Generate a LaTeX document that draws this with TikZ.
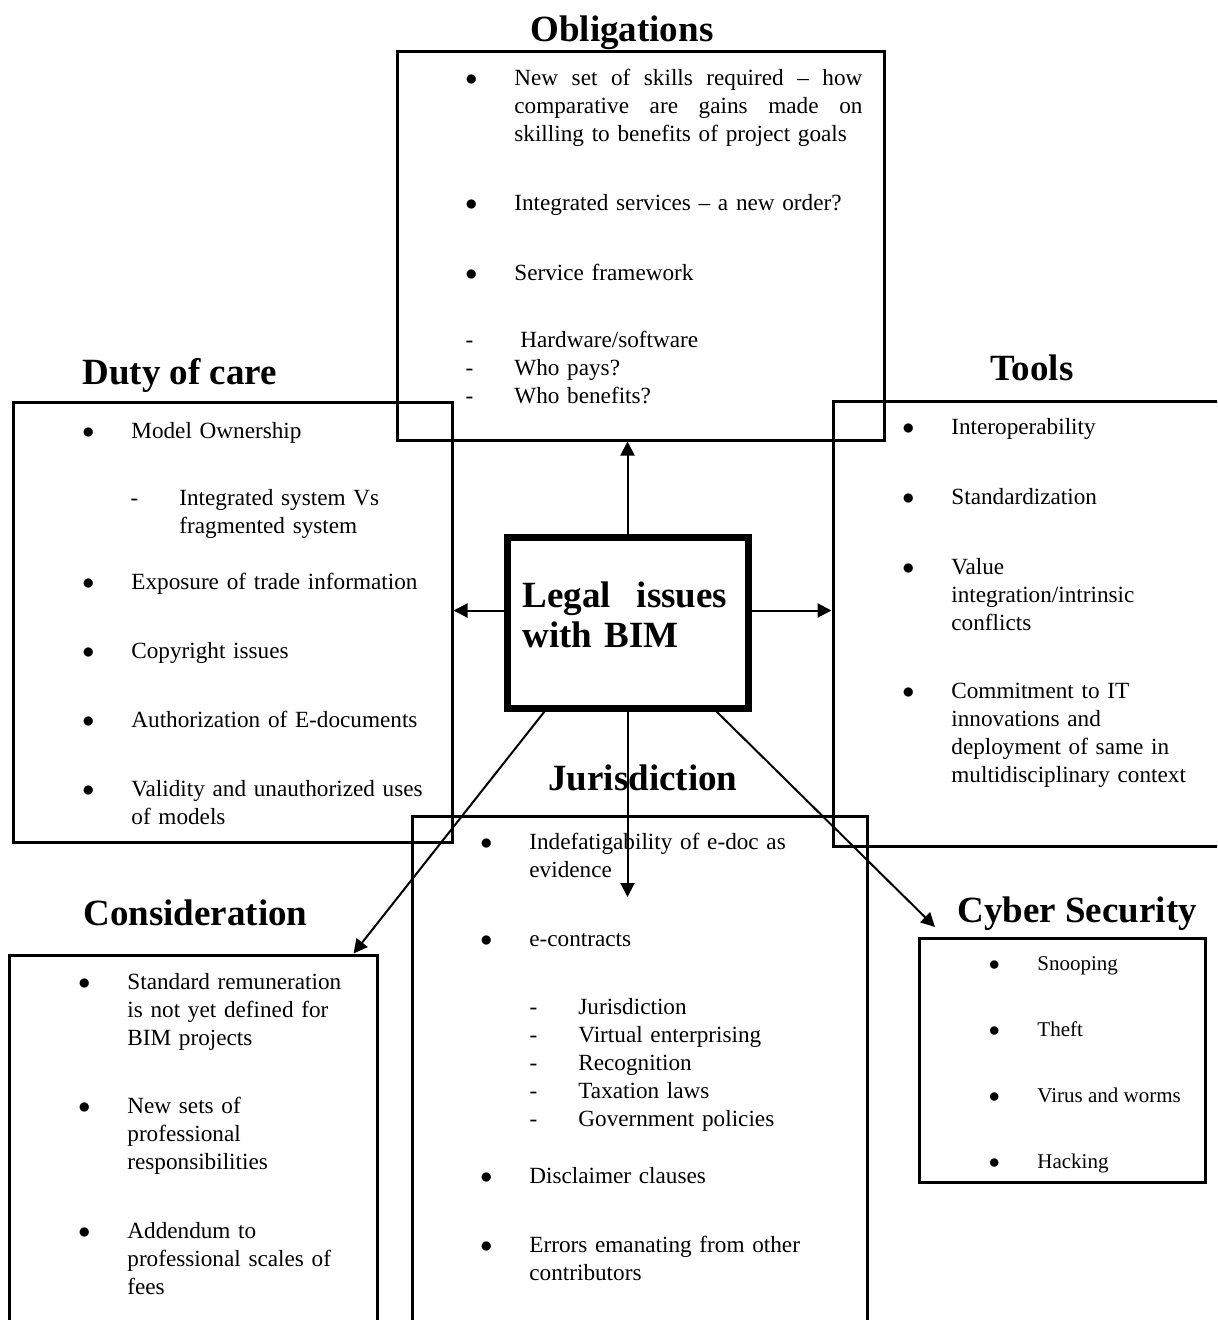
\documentclass[tikz,border=0pt]{standalone}
\usepackage{fontspec}
\setmainfont{Liberation Serif}
\usetikzlibrary{arrows.meta,fit,positioning}

\newcommand{\bul}{\leavevmode\llap{\makebox[0pt]{$\bullet$}\hspace{21.5pt}}}
\newcommand{\dsh}{\leavevmode\llap{\makebox[0pt]{-}\hspace{22.5pt}}}

\begin{document}
\begin{tikzpicture}[x=0.5pt,y=-0.5pt]
	\tikzstyle{box}=[rectangle, draw=black, line width=1.5pt, inner sep=0pt]
	\tikzstyle{hub}=[rectangle, draw=black, line width=3.5pt, inner sep=0pt]
	\tikzstyle{heading}=[font=\bfseries\fontsize{18.5}{20}\selectfont, anchor=base west, inner sep=0pt]
	\tikzstyle{entry}=[font=\fontsize{11.6}{14}\selectfont, anchor=base west, inner sep=0pt, text width=200pt, align=left]
	\tikzstyle{entrysm}=[font=\fontsize{10.5}{12}\selectfont, anchor=base west, inner sep=0pt]
	\tikzstyle{connect}=[-{Triangle[length=7pt,width=7pt]}, line width=1pt]
	\useasboundingbox (0,0) rectangle (1217,1320);
	\clip (0,0) rectangle (1217,1320);
	\fill[white] (0,0) rectangle (1217,1320);
	% boxes
	\node[box, fit={(397,52) (884,440)}] (oblig) {};
	\node[box, fit={(13,403) (452,842)}] (duty) {};
	\node[box, fit={(833,402) (1230,846)}] (tools) {};
	\node[box, fit={(412,816) (867,1330)}] (juris) {};
	\node[box, fit={(9,955) (377,1330)}] (consid) {};
	\node[box, fit={(919,938) (1205,1182)}] (cyber) {};
	\node[hub, fit={(507,537) (748,708)}] (hub) {};
	% headings
	\node[heading] (obligT) at (530,42) {Obligations};
	\node[heading] (dutyT) at (82,385) {Duty of care};
	\node[heading] (toolsT) at (990,380) {Tools};
	\node[heading] (jurisT) at (548,790) {Jurisdiction};
	\node[heading] (considT) at (83,925) {Consideration};
	\node[heading] (cyberT) at (957,922) {Cyber Security};
	\node[heading, text width=110pt, align=left] (hubT) at (522,607) {\makebox[102.5pt][l]{Legal\hfill issues}\\with BIM};
	% obligations
	\node[entry] (ob1) at (514,86) {\bul\makebox[174pt][l]{New\hfill set\hfill of\hfill skills\hfill required\hfill --\hfill how}\\\makebox[174pt][l]{comparative\hfill are\hfill gains\hfill made\hfill on}\\skilling to benefits of project goals};
	\node[entry] (ob2) at (514,211) {\bul Integrated services -- a new order?};
	\node[entry] (ob3) at (514,281) {\bul Service framework};
	\node[entry] (ob4) at (514,348) {\dsh\hspace{3pt}Hardware/software\\\dsh Who pays?\\\dsh Who benefits?};
	% duty of care
	\node[entry] (du1) at (131,438) {\bul Model Ownership};
	\node[entry] (du2) at (179,505) {\dsh Integrated system Vs\\fragmented system};
	\node[entry] (du3) at (131,589) {\bul Exposure of trade information};
	\node[entry] (du4) at (131,658) {\bul Copyright issues};
	\node[entry] (du5) at (131,727) {\bul Authorization of E-documents};
	\node[entry] (du6) at (131,796) {\bul Validity and unauthorized uses\\of models};
	% tools
	\node[entry] (to1) at (951,435) {\bul Interoperability};
	\node[entry] (to2) at (951,504) {\bul Standardization};
	\node[entry] (to3) at (951,574) {\bul Value\\integration/intrinsic\\conflicts};
	\node[entry] (to4) at (951,698) {\bul Commitment to IT\\innovations and\\deployment of same in\\multidisciplinary context};
	% jurisdiction
	\node[entry] (ju1) at (529,849) {\bul Indefatigability of e-doc as\\evidence};
	\node[entry] (ju2) at (529,946) {\bul e-contracts};
	\node[entry] (ju3) at (578,1014) {\dsh Jurisdiction\\\dsh Virtual enterprising\\\dsh Recognition\\\dsh Taxation laws\\\dsh Government policies};
	\node[entry] (ju4) at (529,1183) {\bul Disclaimer clauses};
	\node[entry] (ju5) at (529,1252) {\bul Errors emanating from other\\contributors};
	% consideration
	\node[entry] (co1) at (127,989) {\bul Standard remuneration\\is not yet defined for\\BIM projects};
	\node[entry] (co2) at (127,1113) {\bul New sets of\\professional\\responsibilities};
	\node[entry] (co3) at (127,1238) {\bul Addendum to\\professional scales of\\fees};
	% cyber security
	\node[entrysm] (cy1) at (1037,970) {\bul Snooping};
	\node[entrysm] (cy2) at (1037,1036) {\bul Theft};
	\node[entrysm] (cy3) at (1037,1102) {\bul Virus and worms};
	\node[entrysm] (cy4) at (1037,1168) {\bul Hacking};
	% arrows
	\coordinate (jtip) at (630,897);
	\coordinate (cybtip) at (935,927);
	\draw[connect] (hub.north) -- (hub.north |- oblig.south);
	\draw[connect] ([yshift=6pt]hub.west) -- ([yshift=6pt]hub.west -| duty.east);
	\draw[connect] ([yshift=6pt]hub.east) -- ([yshift=6pt]hub.east -| tools.west);
	\draw[connect] (hub.south) -- (hub.south |- jtip);
	\draw[connect] (hub.-133) -- ([xshift=-12.5pt]consid.north east);
	\draw[connect] (hub.-45) -- (cybtip);
\end{tikzpicture}
\end{document}
